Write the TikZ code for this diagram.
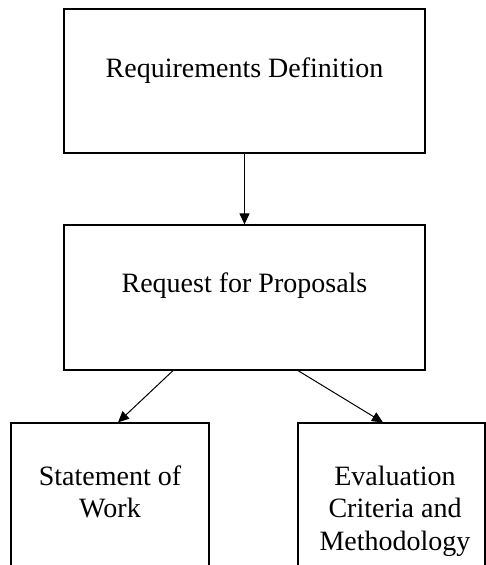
\documentclass[tikz,border=0pt]{standalone}
\usepackage{fontspec}
\setmainfont{Liberation Serif}
\usetikzlibrary{positioning,arrows.meta}

\tikzset{
  stagebox/.style={draw, line width=1.2pt, inner sep=0pt},
  stagetext/.style={inner sep=0pt, align=center, font=\fontsize{28}{32.5}\selectfont},
  flow/.style={line width=1pt, -{Triangle[length=11pt,width=10pt]}}
}

\begin{document}
\begin{tikzpicture}[x=1pt, y=-1pt]
  \clip (0,0) rectangle (486,565);
  % boxes
  \node[stagebox, minimum width=361pt, minimum height=144pt] (reqdef) at (244.5,81) {};
  \node[stagebox, minimum width=361pt, minimum height=145pt] (rfp) at (244.5,297.5) {};
  \node[stagebox, minimum width=198pt, minimum height=200pt] (sow) at (110,523) {};
  \node[stagebox, minimum width=187pt, minimum height=200pt] (evalcrit) at (391.5,523) {};
  % texts
  \node[stagetext, below=49pt of reqdef.north] (reqdeftxt) {Requirements Definition};
  \node[stagetext, below=48pt of rfp.north] (rfptxt) {Request for Proposals};
  \node[stagetext, below=43pt of sow.north] (sowtxt) {Statement of\\Work};
  \node[stagetext, below=43pt of evalcrit.north, xshift=3.5pt] (evalcrittxt) {Evaluation\\Criteria and\\Methodology};
  % arrows
  \draw[flow] (reqdef.south) -- (rfp.north);
  \draw[flow] ([xshift=-71.5pt]rfp.south) -- ([xshift=8pt]sow.north);
  \draw[flow] ([xshift=53.5pt]rfp.south) -- ([xshift=-8.5pt]evalcrit.north);
\end{tikzpicture}
\end{document}
